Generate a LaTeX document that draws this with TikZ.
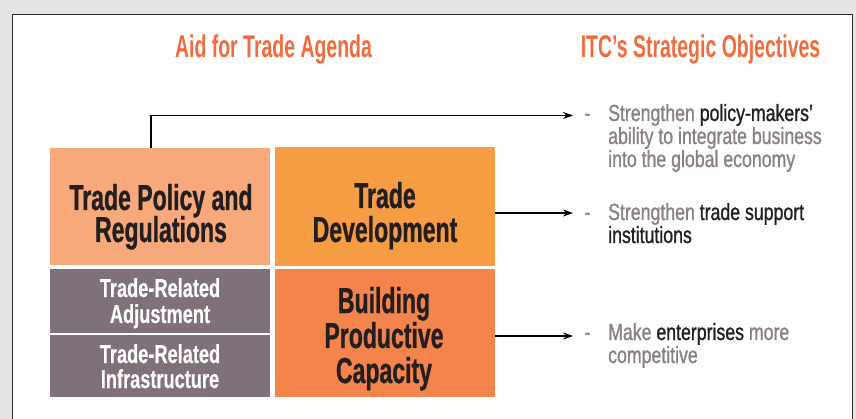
\documentclass[tikz,border=0pt]{standalone}
\usepackage{fontspec}
\setmainfont{Liberation Sans}
\newfontfamily\headfont[FakeStretch=0.62]{Liberation Sans}
\newfontfamily\bigboxfont[FakeStretch=0.64,FakeBold=0.8]{Liberation Sans}
\newfontfamily\smallboxfont[FakeStretch=0.70,FakeBold=0.4]{Liberation Sans}
\newfontfamily\objfont[FakeStretch=0.76,FakeBold=1.0]{Liberation Sans}
\usetikzlibrary{arrows.meta}

\definecolor{pagebg}{HTML}{E5E3E5}
\definecolor{framec}{HTML}{2E2C2E}
\definecolor{headc}{HTML}{F26B3D}
\definecolor{policyc}{HTML}{F8A97B}
\definecolor{devc}{HTML}{F69C42}
\definecolor{capc}{HTML}{F4844B}
\definecolor{relc}{HTML}{7F7179}
\definecolor{softtxt}{HTML}{8B8087}
\definecolor{darktxt}{HTML}{231F20}

% stacked lines with a fixed leading; the baseline is that of the first line
\newcommand\linesc[2]{\vtop{\baselineskip=#1\lineskiplimit=-1000pt\lineskip=0pt\let\\=\cr\halign{\hfil##\hfil\cr#2\crcr}}}
\newcommand\linesl[2]{\vtop{\baselineskip=#1\lineskiplimit=-1000pt\lineskip=0pt\let\\=\cr\halign{##\hfil\cr#2\crcr}}}

\begin{document}
\begin{tikzpicture}[x=1pt,y=-1pt,
  panel/.style={draw=none, inner sep=0pt, outer sep=0pt, minimum width=220pt, anchor=north west},
  lbl/.style={anchor=base, inner sep=0pt},
  objlbl/.style={anchor=base west, inner sep=0pt, text=softtxt},
  dashlbl/.style={anchor=base, inner sep=0pt, text=softtxt},
  arr/.style={line width=1.2pt, -{Stealth[length=10pt,width=7pt]}}]

% page and frame
\fill[pagebg] (0,0) rectangle (856,419);
\useasboundingbox (0,0) rectangle (856,419);
\begin{scope}
  \clip (0,0) rectangle (856,419);
  \filldraw[fill=white, draw=framec, line width=1.5pt] (12.5,440) |- (852.5,14.5) -- (852.5,440);
\end{scope}

% column headings
\node[lbl, text=headc] (headL) at (273.5,58) {\headfont\bfseries\fontsize{31.4}{34}\selectfont Aid for Trade Agenda};
\node[lbl, text=headc] (headR) at (700.5,58) {\headfont\bfseries\fontsize{31.4}{34}\selectfont ITC’s Strategic Objectives};

% agenda panels
\node[panel, fill=policyc, minimum height=117pt] (tp)  at (50,148) {};
\node[panel, fill=devc,    minimum height=119pt] (td)  at (275,147) {};
\node[panel, fill=relc,    minimum height=64pt]  (adj) at (50,269) {};
\node[panel, fill=relc,    minimum height=62pt]  (inf) at (50,335) {};
\node[panel, fill=capc,    minimum height=128pt] (bpc) at (275,269) {};

% panel texts
\node[lbl, text=darktxt] (tpT) at (161,210)
  {\bigboxfont\bfseries\fontsize{36}{32}\selectfont\linesc{32pt}{Trade Policy and\\Regulations}};
\node[lbl, text=darktxt] (tdT) at (385,208)
  {\bigboxfont\bfseries\fontsize{36}{34}\selectfont\linesc{34pt}{Trade\\Development}};
\node[lbl, text=darktxt] (bpcT) at (384,313)
  {\bigboxfont\bfseries\fontsize{36}{35}\selectfont\linesc{35pt}{Building\\Productive\\Capacity}};
\node[lbl, text=white] (adjT) at (160,297)
  {\smallboxfont\bfseries\fontsize{26}{26}\selectfont\linesc{26pt}{Trade-Related\\Adjustment}};
\node[lbl, text=white] (infT) at (160,363)
  {\smallboxfont\bfseries\fontsize{26}{25}\selectfont\linesc{25pt}{Trade-Related\\Infrastructure}};

% objectives
\node[dashlbl] (d1) at (587.5,121) {\objfont\fontsize{23.3}{23}\selectfont -};
\node[dashlbl] (d2) at (587.5,220) {\objfont\fontsize{23.3}{23}\selectfont -};
\node[dashlbl] (d3) at (587.5,340) {\objfont\fontsize{23.3}{23}\selectfont -};

\node[objlbl] (o1) at (608,121) {\objfont\fontsize{23.3}{23}\selectfont
  \linesl{23pt}{Strengthen {\color{darktxt}policy-makers’}\\ability to integrate business\\into the global economy}};
\node[objlbl] (o2) at (608,220) {\objfont\fontsize{23.3}{23}\selectfont
  \linesl{23pt}{Strengthen {\color{darktxt}trade support}\\{\color{darktxt}institutions}}};
\node[objlbl] (o3) at (608,340) {\objfont\fontsize{23.3}{23}\selectfont
  \linesl{23pt}{Make {\color{darktxt}enterprises} more\\competitive}};

% arrow ends just before each dash
\coordinate (a1) at (573,115.5);
\coordinate (a2) at (573,213);
\coordinate (a3) at (573,336);

% connectors
\draw[arr] ([xshift=-9pt]tp.north) |- (a1);
\draw[arr] (td.east |- a2) -- (a2);
\draw[arr] (bpc.east |- a3) -- (a3);
\end{tikzpicture}
\end{document}
